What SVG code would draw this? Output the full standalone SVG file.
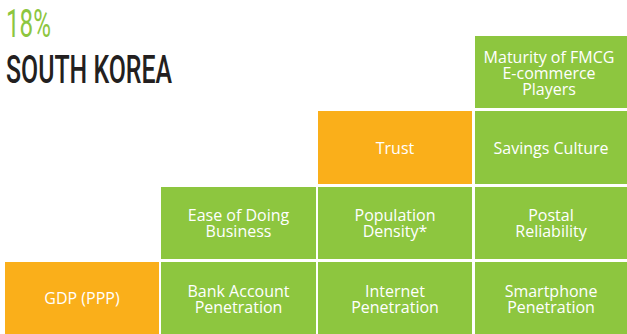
<svg xmlns="http://www.w3.org/2000/svg" width="627" height="334" viewBox="0 0 627 334">
<style>
.g{fill:#8DC63F}
.o{fill:#FAAF1A}
.t{font-family:"Open Sans","Liberation Sans",sans-serif;font-size:16px;fill:#FFFFFF;text-anchor:middle}
.h{font-family:Roboto,"Liberation Sans",sans-serif;font-size:38px}
</style>
<rect width="627" height="334" fill="#FFFFFF"/>
<text class="h" x="6" y="37" fill="#8DC63F" textLength="45" lengthAdjust="spacingAndGlyphs">18%</text>
<text class="h" x="6" y="83" fill="#231F20" font-weight="500" textLength="166" lengthAdjust="spacingAndGlyphs">SOUTH KOREA</text>
<g id="connectors"></g>
<g id="fmcg"><rect class="g" x="475" y="36" width="152" height="72"/><text class="t"><tspan x="549" y="63">Maturity of FMCG</tspan><tspan x="549" y="79">E-commerce</tspan><tspan x="549" y="95">Players</tspan></text></g>
<g id="trust"><rect class="o" x="318" y="111" width="154" height="73"/><text class="t" x="395" y="154">Trust</text></g>
<g id="savings"><rect class="g" x="475" y="111" width="152" height="73"/><text class="t" x="551" y="154">Savings Culture</text></g>
<g id="ease"><rect class="g" x="161" y="187" width="155" height="72"/><text class="t"><tspan x="238.5" y="221">Ease of Doing</tspan><tspan x="238.5" y="237">Business</tspan></text></g>
<g id="population"><rect class="g" x="318" y="187" width="154" height="72"/><text class="t"><tspan x="395" y="221">Population</tspan><tspan x="395" y="237">Density*</tspan></text></g>
<g id="postal"><rect class="g" x="475" y="187" width="152" height="72"/><text class="t"><tspan x="551" y="221">Postal</tspan><tspan x="551" y="237">Reliability</tspan></text></g>
<g id="gdp"><rect class="o" x="5" y="262" width="154" height="72"/><text class="t" x="82" y="304">GDP (PPP)</text></g>
<g id="bank"><rect class="g" x="161" y="262" width="155" height="72"/><text class="t"><tspan x="238.5" y="297">Bank Account</tspan><tspan x="238.5" y="313">Penetration</tspan></text></g>
<g id="internet"><rect class="g" x="318" y="262" width="154" height="72"/><text class="t"><tspan x="395" y="297">Internet</tspan><tspan x="395" y="313">Penetration</tspan></text></g>
<g id="smartphone"><rect class="g" x="475" y="262" width="152" height="72"/><text class="t"><tspan x="551" y="297">Smartphone</tspan><tspan x="551" y="313">Penetration</tspan></text></g>
</svg>
